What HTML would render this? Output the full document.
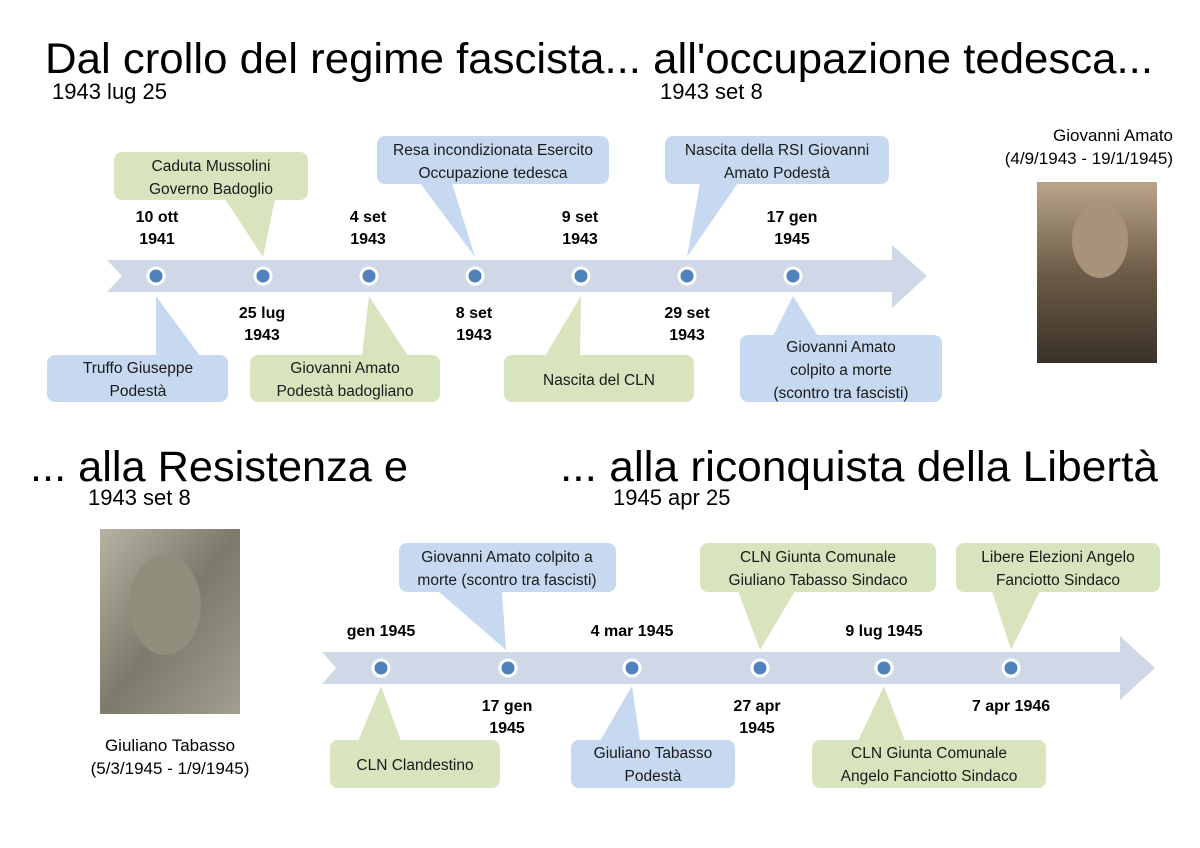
<!DOCTYPE html>
<html><head><meta charset="utf-8"><style>
html,body{margin:0;padding:0;background:#fff;}
svg{display:block;}
text{font-family:"Liberation Sans",sans-serif;}
.t{font-size:43px;fill:#000;}
.s{font-size:22px;fill:#000;}
.c{font-size:15.5px;fill:#1a1a1a;text-anchor:middle;}
.d{font-size:16px;font-weight:bold;fill:#000;text-anchor:middle;}
.cap{font-size:17px;fill:#000;}
</style></head><body>
<svg width="1200" height="848" viewBox="0 0 1200 848" xmlns="http://www.w3.org/2000/svg">
<defs>
<linearGradient id="sep" x1="0" y1="0" x2="0" y2="1"><stop offset="0" stop-color="#b8a58a"/><stop offset="0.5" stop-color="#6d5c48"/><stop offset="1" stop-color="#3b3128"/></linearGradient>
<linearGradient id="gry" x1="0" y1="0" x2="1" y2="1"><stop offset="0" stop-color="#b5b3a2"/><stop offset="0.5" stop-color="#7c7a6a"/><stop offset="1" stop-color="#a09f90"/></linearGradient>
</defs>
<text class="t" x="45" y="73" textLength="1108" lengthAdjust="spacingAndGlyphs">Dal crollo del regime fascista... all'occupazione tedesca...</text>
<text class="s" x="52" y="99">1943 lug 25</text>
<text class="s" x="660" y="99">1943 set 8</text>
<text class="t" x="30" y="481" textLength="378" lengthAdjust="spacingAndGlyphs">... alla Resistenza e</text>
<text class="s" x="88" y="505">1943 set 8</text>
<text class="t" x="560" y="481" textLength="598" lengthAdjust="spacingAndGlyphs">... alla riconquista della Libertà</text>
<text class="s" x="613" y="505">1945 apr 25</text>

<text class="cap" x="1173" y="141" text-anchor="end">Giovanni Amato</text>
<text class="cap" x="1173" y="164" text-anchor="end">(4/9/1943 - 19/1/1945)</text>
<rect x="1037" y="182" width="120" height="181" fill="url(#sep)"/>
<ellipse cx="1100" cy="240" rx="28" ry="38" fill="#a8937a"/>
<text class="cap" x="170" y="751" text-anchor="middle">Giuliano Tabasso</text>
<text class="cap" x="170" y="774" text-anchor="middle">(5/3/1945 - 1/9/1945)</text>
<rect x="100" y="529" width="140" height="185" fill="url(#gry)"/>
<ellipse cx="165" cy="605" rx="36" ry="50" fill="#8f8d7c"/>

<polygon points="107,260 892,260 892,245 927,276 892,308 892,292 107,292 122,276" fill="#d0d8e8"/>
<g fill="#4f81bd" stroke="#fff" stroke-width="3">
<circle cx="156" cy="276" r="8"/><circle cx="263" cy="276" r="8"/><circle cx="369" cy="276" r="8"/><circle cx="475" cy="276" r="8"/><circle cx="581" cy="276" r="8"/><circle cx="687" cy="276" r="8"/><circle cx="793" cy="276" r="8"/>
</g>
<g fill="#d7e4bd">
<rect x="114" y="152" width="194" height="48" rx="8"/><polygon points="225,199 275,199 263,257"/>
<rect x="250" y="355" width="190" height="47" rx="8"/><polygon points="369,296 362,356 408,356"/>
<rect x="504" y="355" width="190" height="47" rx="8"/><polygon points="581,296 545,356 580,356"/>
</g>
<g fill="#c6d9f0">
<rect x="377" y="136" width="232" height="48" rx="8"/><polygon points="420,183 452,183 475,257"/>
<rect x="665" y="136" width="224" height="48" rx="8"/><polygon points="700,183 738,183 687,257"/>
<rect x="47" y="355" width="181" height="47" rx="8"/><polygon points="156,296 156,356 200,356"/>
<rect x="740" y="335" width="202" height="67" rx="8"/><polygon points="793,296 773,336 818,336"/>
</g>
<text class="c" x="211" y="171">Caduta Mussolini</text><text class="c" x="211" y="194">Governo Badoglio</text>
<text class="c" x="493" y="155">Resa incondizionata Esercito</text><text class="c" x="493" y="178">Occupazione tedesca</text>
<text class="c" x="777" y="155">Nascita della RSI Giovanni</text><text class="c" x="777" y="178">Amato Podestà</text>
<text class="c" x="138" y="373">Truffo Giuseppe</text><text class="c" x="138" y="396">Podestà</text>
<text class="c" x="345" y="373">Giovanni Amato</text><text class="c" x="345" y="396">Podestà badogliano</text>
<text class="c" x="599" y="385">Nascita del CLN</text>
<text class="c" x="841" y="352">Giovanni Amato</text><text class="c" x="841" y="375">colpito a morte</text><text class="c" x="841" y="398">(scontro tra fascisti)</text>
<text class="d" x="157" y="222">10 ott</text><text class="d" x="157" y="244">1941</text>
<text class="d" x="368" y="222">4 set</text><text class="d" x="368" y="244">1943</text>
<text class="d" x="580" y="222">9 set</text><text class="d" x="580" y="244">1943</text>
<text class="d" x="792" y="222">17 gen</text><text class="d" x="792" y="244">1945</text>
<text class="d" x="262" y="318">25 lug</text><text class="d" x="262" y="340">1943</text>
<text class="d" x="474" y="318">8 set</text><text class="d" x="474" y="340">1943</text>
<text class="d" x="687" y="318">29 set</text><text class="d" x="687" y="340">1943</text>

<polygon points="322,652 1120,652 1120,636 1155,668 1120,700 1120,684 322,684 336,668" fill="#d0d8e8"/>
<g fill="#4f81bd" stroke="#fff" stroke-width="3">
<circle cx="381" cy="668" r="8"/><circle cx="508" cy="668" r="8"/><circle cx="632" cy="668" r="8"/><circle cx="760" cy="668" r="8"/><circle cx="884" cy="668" r="8"/><circle cx="1011" cy="668" r="8"/>
</g>
<g fill="#c6d9f0">
<rect x="399" y="543" width="217" height="49" rx="8"/><polygon points="438,591 502,591 506,650"/>
<rect x="571" y="740" width="164" height="48" rx="8"/><polygon points="632,686 600,741 640,741"/>
</g>
<g fill="#d7e4bd">
<rect x="700" y="543" width="236" height="49" rx="8"/><polygon points="738,591 795,591 760,650"/>
<rect x="956" y="543" width="204" height="49" rx="8"/><polygon points="992,591 1040,591 1011,650"/>
<rect x="330" y="740" width="170" height="48" rx="8"/><polygon points="381,686 358,741 401,741"/>
<rect x="812" y="740" width="234" height="48" rx="8"/><polygon points="884,686 858,741 905,741"/>
</g>
<text class="c" x="507" y="562">Giovanni Amato colpito a</text><text class="c" x="507" y="585">morte (scontro tra fascisti)</text>
<text class="c" x="818" y="562">CLN Giunta Comunale</text><text class="c" x="818" y="585">Giuliano Tabasso Sindaco</text>
<text class="c" x="1058" y="562">Libere Elezioni Angelo</text><text class="c" x="1058" y="585">Fanciotto Sindaco</text>
<text class="c" x="415" y="770">CLN Clandestino</text>
<text class="c" x="653" y="758">Giuliano Tabasso</text><text class="c" x="653" y="781">Podestà</text>
<text class="c" x="929" y="758">CLN Giunta Comunale</text><text class="c" x="929" y="781">Angelo Fanciotto Sindaco</text>
<text class="d" x="381" y="636">gen 1945</text>
<text class="d" x="632" y="636">4 mar 1945</text>
<text class="d" x="884" y="636">9 lug 1945</text>
<text class="d" x="507" y="711">17 gen</text><text class="d" x="507" y="733">1945</text>
<text class="d" x="757" y="711">27 apr</text><text class="d" x="757" y="733">1945</text>
<text class="d" x="1011" y="711">7 apr 1946</text>
</svg>
</body></html>
